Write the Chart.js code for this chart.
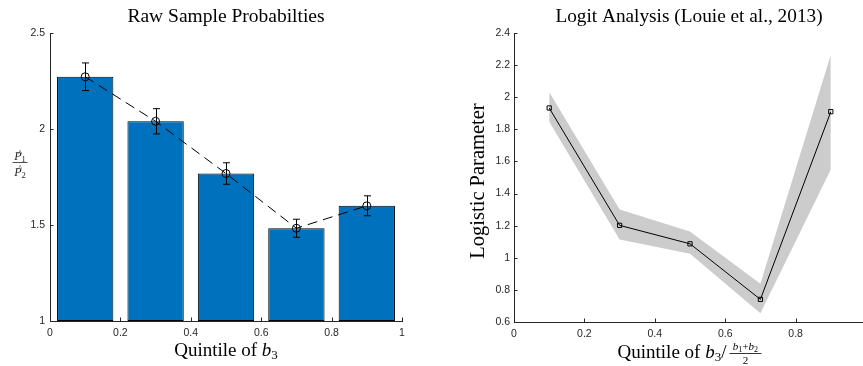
<!DOCTYPE html>
<html>
<head>
<meta charset="utf-8">
<script src="https://cdn.jsdelivr.net/npm/chart.js@4/dist/chart.umd.min.js"></script>
<style>
  html, body { margin: 0; padding: 0; background: #fff; overflow: hidden; width: 863px; height: 366px; }
  #leftBox  { position: absolute; left: 0;     top: 0; width: 431px; height: 366px; }
  #rightBox { position: absolute; left: 431px; top: 0; width: 440px; height: 366px; }
</style>
</head>
<body>
<div id="leftBox"><canvas id="rawChart"></canvas></div>
<div id="rightBox"><canvas id="logitChart"></canvas></div>
<script>
// ---- Raw sample probability ratio P1/P2 per quintile ----
const quintileMid = [0.1, 0.3, 0.5, 0.7, 0.9];
const ratioValues = [2.272, 2.040, 1.768, 1.483, 1.600];
const ratioErr    = [0.072, 0.066, 0.056, 0.047, 0.052];
const rawXTicks   = [0, 0.2, 0.4, 0.6, 0.8, 1];
const rawYTicks   = [1, 1.5, 2, 2.5];

// ---- Logit estimates with confidence band ----
const logitValues = [1.933, 1.202, 1.087, 0.741, 1.910];
const logitUpper  = [2.033, 1.300, 1.164, 0.838, 2.264];
const logitLower  = [1.848, 1.114, 1.025, 0.654, 1.550];
const logitXTicks = [0, 0.2, 0.4, 0.6, 0.8];
const logitYTicks = [0.6, 0.8, 1, 1.2, 1.4, 1.6, 1.8, 2, 2.2, 2.4];

const AXIS = '#262626';
const TICK_FONT = { family: '"Liberation Sans", Arial, sans-serif', size: 10.5 };
const SERIF = '"Liberation Serif", "Times New Roman", serif';

const pts = (ys) => quintileMid.map((x, i) => ({ x, y: ys[i] }));
const fmt = (v) => String(+(+v).toFixed(2));

function axisOpts(min, max, tickList, fixedSize, horizontal, pad) {
  return {
    type: 'linear', min, max, offset: false,
    grid: { display: false, drawTicks: false, offset: false },
    border: { display: true, color: AXIS, width: 1 },
    ticks: { font: TICK_FONT, color: AXIS, padding: pad, autoSkip: false, maxRotation: 0, callback: fmt },
    afterBuildTicks: (s) => { s.ticks = tickList.map(v => ({ value: v })); },
    afterFit: (s) => { if (horizontal) s.height = fixedSize; else s.width = fixedSize; }
  };
}

// inward tick marks on both axes
function inwardTicks(xTicks, yTicks) {
  return {
    id: 'inwardTicks',
    afterDraw(chart) {
      const { ctx, chartArea: a, scales: { x, y } } = chart;
      ctx.save();
      ctx.strokeStyle = AXIS; ctx.lineWidth = 1;
      ctx.beginPath();
      xTicks.forEach(v => {
        const px = Math.round(x.getPixelForValue(v)) + 0.5;
        ctx.moveTo(px, a.bottom); ctx.lineTo(px, a.bottom - 3.5);
      });
      yTicks.forEach(v => {
        const py = Math.round(y.getPixelForValue(v)) + 0.5;
        ctx.moveTo(a.left, py); ctx.lineTo(a.left + 3.5, py);
      });
      ctx.stroke();
      ctx.restore();
    }
  };
}

// draws a run of text pieces centred on (cx, cy)
function drawRun(ctx, parts, cx, cy) {
  let w = 0;
  parts.forEach(p => { ctx.font = p.font; p.w = ctx.measureText(p.t).width; w += p.w + (p.gap || 0); });
  let x = cx - w / 2;
  ctx.textBaseline = 'alphabetic';
  ctx.textAlign = 'left';
  parts.forEach(p => {
    ctx.font = p.font;
    ctx.fillText(p.t, x, cy + (p.dy || 0));
    x += p.w + (p.gap || 0);
  });
  return { left: cx - w / 2, right: cx + w / 2 };
}

// error bars for the ratio chart
const errorBars = {
  id: 'errorBars',
  afterDatasetsDraw(chart) {
    const { ctx, scales: { x, y } } = chart;
    ctx.save();
    ctx.strokeStyle = '#000'; ctx.lineWidth = 1;
    ctx.beginPath();
    quintileMid.forEach((q, i) => {
      const px = Math.round(x.getPixelForValue(q)) + 0.5;
      const top = y.getPixelForValue(ratioValues[i] + ratioErr[i]);
      const bot = y.getPixelForValue(ratioValues[i] - ratioErr[i]);
      ctx.moveTo(px, top); ctx.lineTo(px, bot);
      ctx.moveTo(px - 3.5, top); ctx.lineTo(px + 3.5, top);
      ctx.moveTo(px - 3.5, bot); ctx.lineTo(px + 3.5, bot);
    });
    ctx.stroke();
    ctx.restore();
  }
};

const rawLabels = {
  id: 'rawLabels',
  afterDraw(chart) {
    const ctx = chart.ctx;
    ctx.save();
    ctx.fillStyle = '#000';
    drawRun(ctx, [{ t: 'Raw Sample Probabilties', font: `19.5px ${SERIF}` }], 226, 22);
    drawRun(ctx, [
      { t: 'Quintile of ', font: `19px ${SERIF}` },
      { t: 'b', font: `italic 19px ${SERIF}` },
      { t: '3', font: `13px ${SERIF}`, dy: 3 }
    ], 226, 356);
    // fraction P^1 / P^2
    ctx.fillStyle = AXIS;
    ctx.strokeStyle = AXIS;
    const cx = 20;
    drawRun(ctx, [{ t: 'P', font: `italic 12px ${SERIF}` }, { t: '1', font: `8.5px ${SERIF}`, dy: 2 }], cx, 160);
    drawRun(ctx, [{ t: 'P', font: `italic 12px ${SERIF}` }, { t: '2', font: `8.5px ${SERIF}`, dy: 2 }], cx, 175.5);
    ctx.font = `9px ${SERIF}`;
    ctx.textAlign = 'center';
    ctx.fillText('^', cx, 155.5);
    ctx.fillText('^', cx, 171);
    ctx.beginPath(); ctx.lineWidth = 0.8;
    ctx.moveTo(12.5, 162.5); ctx.lineTo(27.5, 162.5); ctx.stroke();
    ctx.restore();
  }
};

const logitLabels = {
  id: 'logitLabels',
  afterDraw(chart) {
    const ctx = chart.ctx;
    ctx.save();
    ctx.fillStyle = '#000';
    drawRun(ctx, [{ t: 'Logit Analysis (Louie et al., 2013)', font: `19.3px ${SERIF}` }], 258, 22);
    // x label with fraction
    const main = [
      { t: 'Quintile of ', font: `19px ${SERIF}` },
      { t: 'b', font: `italic 19px ${SERIF}` },
      { t: '3', font: `13px ${SERIF}`, dy: 3 },
      { t: '/', font: `19px ${SERIF}`, gap: 36 }
    ];
    const r = drawRun(ctx, main, 259, 358);
    const fx = r.right - 36 / 2 + 1;
    drawRun(ctx, [
      { t: 'b', font: `italic 11px ${SERIF}` },
      { t: '1', font: `8px ${SERIF}`, dy: 2 },
      { t: '+', font: `11px ${SERIF}` },
      { t: 'b', font: `italic 11px ${SERIF}` },
      { t: '2', font: `8px ${SERIF}`, dy: 2 }
    ], fx, 350);
    drawRun(ctx, [{ t: '2', font: `11px ${SERIF}` }], fx, 364);
    ctx.strokeStyle = '#000'; ctx.lineWidth = 0.8;
    ctx.beginPath(); ctx.moveTo(fx - 16, 353.5); ctx.lineTo(fx + 16, 353.5); ctx.stroke();
    // rotated y label
    ctx.translate(47, 181);
    ctx.rotate(-Math.PI / 2);
    drawRun(ctx, [{ t: 'Logistic Parameter', font: `20.5px ${SERIF}` }], 0, 6);
    ctx.restore();
  }
};

new Chart(document.getElementById('rawChart'), {
  data: {
    datasets: [
      {
        type: 'line', data: pts(ratioValues), order: 0,
        borderColor: '#000', borderWidth: 1, borderDash: [10, 6], tension: 0,
        pointStyle: 'circle', pointRadius: 4, pointBorderWidth: 1,
        pointBorderColor: '#000', pointBackgroundColor: 'rgba(0,0,0,0)'
      },
      {
        type: 'bar', data: pts(ratioValues), order: 2,
        backgroundColor: '#0072BD', borderColor: '#000', borderWidth: 1, borderSkipped: false,
        base: 1, barPercentage: 0.8, categoryPercentage: 1
      }
    ]
  },
  options: {
    responsive: true, maintainAspectRatio: false, animation: false,
    layout: { padding: { left: 0, top: 33, right: 29, bottom: 0 } },
    plugins: { legend: { display: false }, tooltip: { enabled: false } },
    scales: {
      x: axisOpts(0, 1, rawXTicks, 45, true, 6),
      y: axisOpts(1, 2.5, rawYTicks, 50, false, 5)
    }
  },
  plugins: [errorBars, inwardTicks(rawXTicks, rawYTicks), rawLabels]
});

new Chart(document.getElementById('logitChart'), {
  type: 'line',
  data: {
    datasets: [
      { data: pts(logitUpper), order: 3, borderWidth: 0, pointRadius: 0, fill: false, tension: 0 },
      { data: pts(logitLower), order: 2, borderWidth: 0, pointRadius: 0, fill: '-1',
        backgroundColor: '#cccccc', tension: 0 },
      {
        data: pts(logitValues), order: 0, borderColor: '#000', borderWidth: 1, tension: 0, fill: false,
        pointStyle: 'rect', pointRadius: 3, pointBorderWidth: 1,
        pointBorderColor: '#000', pointBackgroundColor: 'rgba(0,0,0,0)'
      }
    ]
  },
  options: {
    responsive: true, maintainAspectRatio: false, animation: false,
    layout: { padding: { left: 0, top: 33, right: 5, bottom: 0 } },
    plugins: { legend: { display: false }, tooltip: { enabled: false }, filler: { propagate: false } },
    scales: {
      x: axisOpts(0, 1, logitXTicks, 44, true, 6),
      y: axisOpts(0.6, 2.4, logitYTicks, 83, false, 4)
    }
  },
  plugins: [inwardTicks(logitXTicks, logitYTicks), logitLabels]
});
</script>
</body>
</html>
